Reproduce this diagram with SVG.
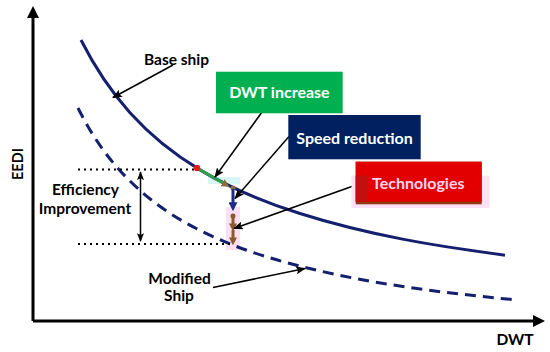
<svg xmlns="http://www.w3.org/2000/svg" width="550" height="352" viewBox="0 0 550 352">
<style>
.lbl{font-family:Lato,"Open Sans","Liberation Sans",sans-serif;font-weight:bold;font-size:15.5px;fill:#000;text-anchor:middle}
.box{font-family:Lato,"Open Sans","Liberation Sans",sans-serif;font-weight:bold;font-size:16px;fill:#fff;text-anchor:middle}
.curve{fill:none;stroke:#14206e;stroke-width:3}
.axis{stroke:#000;stroke-width:3;fill:none}
.dots{stroke:#000;stroke-width:2;stroke-dasharray:2 4;fill:none}
.ptr{stroke:#000;stroke-width:1.5;fill:none;marker-end:url(#arr)}
</style>
<defs>
<marker id="axh" viewBox="0 0 12 12" refX="0" refY="6" markerWidth="12" markerHeight="12" markerUnits="userSpaceOnUse" orient="auto">
<path d="M0,0 L12,6 L0,12 z" fill="#000"/>
</marker>
<marker id="arr" viewBox="0 0 10 8" refX="9" refY="4" markerWidth="10" markerHeight="8" markerUnits="userSpaceOnUse" orient="auto">
<path d="M0,0 L10,4 L0,8 L2,4 z" fill="#000"/>
</marker>
<marker id="arrs" viewBox="0 0 10 8" refX="9" refY="4" markerWidth="9" markerHeight="7" markerUnits="userSpaceOnUse" orient="auto-start-reverse">
<path d="M0,0 L10,4 L0,8 L2,4 z" fill="#000"/>
</marker>
<marker id="blueh" viewBox="0 0 10 10" refX="2" refY="5" markerWidth="9" markerHeight="9" markerUnits="userSpaceOnUse" orient="auto">
<path d="M0,0 L10,5 L0,10 z" fill="#1f2b86"/>
</marker>
<marker id="brownh" viewBox="0 0 10 10" refX="2" refY="5" markerWidth="8" markerHeight="8" markerUnits="userSpaceOnUse" orient="auto">
<path d="M0,0 L10,5 L0,10 z" fill="#8b5a2b"/>
</marker>
<marker id="oliveh" viewBox="0 0 10 10" refX="2" refY="5" markerWidth="8" markerHeight="8" markerUnits="userSpaceOnUse" orient="auto">
<path d="M0,0 L10,5 L0,10 z" fill="#8b6d3a"/>
</marker>
</defs>
<rect width="550" height="352" fill="#fff"/>

<g id="axes">
<line class="axis" x1="33" y1="321" x2="33" y2="18" marker-end="url(#axh)"/>
<line class="axis" x1="33" y1="321" x2="533" y2="321" marker-end="url(#axh)"/>
<text class="lbl" transform="translate(22.5,164) rotate(-90)" style="font-size:14.5px">EEDI</text>
<text class="lbl" x="515" y="345">DWT</text>
</g>

<g id="highlights">
<rect x="208" y="177" width="32" height="7" fill="#d8f6f6"/>
<rect x="226" y="207" width="14" height="43" fill="#fbe0f3"/>
</g>

<g id="base-ship">
<path class="curve" d="M81,40.05 C97.33,72.39 113.67,94.58 130,112.71 C153.33,138.61 176.67,155.87 200,169.89 C233.33,189.92 266.67,202.98 300,213.54 C368.33,235.19 436.67,246.26 505,255.14"/>
<text class="lbl" x="176.5" y="65">Base ship</text>
</g>

<g id="modified-ship">
<path class="curve" stroke-dasharray="11 7" d="M78,107.96 C95.33,142.61 112.67,163.9 130,181.01 C153.33,204.05 176.67,218.62 200,230.38 C233.33,247.17 266.67,257.68 300,266.15 C371.67,284.35 443.33,292.89 515,299.8"/>
<text class="lbl" x="179.5" y="283.5">Modified</text>
<text class="lbl" x="179" y="300.5">Ship</text>
</g>

<g id="efficiency">
<line class="dots" x1="78" y1="169.5" x2="196" y2="169.5"/>
<line class="dots" x1="78" y1="244" x2="230" y2="244"/>
<line x1="140.5" y1="172" x2="140.5" y2="241" stroke="#000" stroke-width="1.5" marker-start="url(#arrs)" marker-end="url(#arrs)"/>
<text class="lbl" x="85.5" y="195">Efficiency</text>
<text class="lbl" x="85" y="213.5">Improvement</text>
</g>

<g id="steps">
<line x1="197" y1="168" x2="224" y2="183.5" stroke="#33a04a" stroke-width="3" marker-end="url(#oliveh)"/>
<circle cx="197" cy="168" r="3.2" fill="#e81c1c"/>
<circle cx="233" cy="188" r="2.5" fill="#8b6d3a"/>
<line x1="233" y1="189" x2="233" y2="204" stroke="#1f2b86" stroke-width="3" marker-end="url(#blueh)"/>
<line x1="233" y1="216" x2="233" y2="225" stroke="#8b5a2b" stroke-width="3" marker-end="url(#brownh)"/>
<line x1="233" y1="230" x2="233" y2="239" stroke="#8b5a2b" stroke-width="3" marker-end="url(#brownh)"/>
<circle cx="233" cy="216" r="2.5" fill="#8b5a2b"/>
</g>

<g id="connectors">
<line class="ptr" x1="173" y1="65" x2="113" y2="97.5"/>
<line class="ptr" x1="261.7" y1="112.5" x2="215" y2="177"/>
<line class="ptr" x1="289" y1="136.5" x2="235" y2="198.5"/>
<line class="ptr" x1="356" y1="185" x2="234" y2="228.5"/>
<line class="ptr" x1="213" y1="287.5" x2="305" y2="268.5"/>
</g>

<g id="dwt-increase">
<rect x="216" y="71.7" width="126.7" height="41.6" fill="#00b050"/>
<text class="box" x="279.4" y="98">DWT increase</text>
</g>

<g id="speed-reduction">
<rect x="288.3" y="115" width="132.4" height="44.3" fill="#002060"/>
<text class="box" x="354.5" y="143.5">Speed reduction</text>
</g>

<g id="technologies">
<rect x="351.5" y="175.7" width="138" height="32.3" fill="#fde2f7"/>
<rect x="355.7" y="161.7" width="126" height="42.6" fill="#8f3a16"/>
<rect x="355.7" y="161.7" width="126" height="40" fill="#e20000"/>
<rect x="355.7" y="175.7" width="12" height="26" fill="#c01010"/>
<text class="box" x="418.3" y="188.8" style="fill:#ffd5f0">Technologies</text>
</g>
</svg>
